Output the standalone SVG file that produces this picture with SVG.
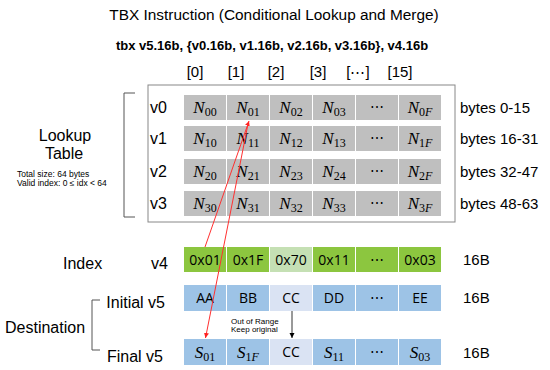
<svg xmlns="http://www.w3.org/2000/svg" width="550" height="370" viewBox="0 0 550 370">
<style>
.s{font-family:"Liberation Sans",Arial,sans-serif;fill:#000}
.t{font-size:16px}
.m{font-size:15px}
.sm{font-size:8.5px}
.g{fill:#bfbfbf}
.gr{fill:#8cc63f}
.lg{fill:#c5e0b4}
.b{fill:#9dc3e6}
.lb{fill:#dae3f3}
.n{font-family:"Liberation Serif","Times New Roman",serif;font-style:italic;font-size:17px;fill:#000;text-anchor:middle}
.n tspan.sub{font-size:12px;font-style:normal}
.n tspan.subi{font-size:12px}
.c{font-family:"Open Sans","Liberation Sans",sans-serif;font-size:14px;fill:#000;text-anchor:middle}
.br{fill:none;stroke:#555;stroke-width:1}
</style>
<defs>
<marker id="ar" markerWidth="6" markerHeight="6" refX="5" refY="3" orient="auto" markerUnits="userSpaceOnUse">
<path d="M0,0.5 L5,3 L0,5.5 Z" fill="#ff2020"/>
</marker>
<marker id="ak" markerWidth="6" markerHeight="6" refX="5" refY="3" orient="auto" markerUnits="userSpaceOnUse">
<path d="M0,0.5 L5,3 L0,5.5 Z" fill="#000"/>
</marker>
</defs>
<g id="title">
<text class="s" x="274" y="20" text-anchor="middle" font-size="15.4">TBX Instruction (Conditional Lookup and Merge)</text>
<text class="s" x="272" y="50" text-anchor="middle" font-size="13" font-weight="bold">tbx v5.16b, {v0.16b, v1.16b, v2.16b, v3.16b}, v4.16b</text>
</g>
<g id="col-headers" class="s m" text-anchor="middle">
<text x="195" y="77">[0]</text>
<text x="236" y="77">[1]</text>
<text x="276" y="77">[2]</text>
<text x="318" y="77">[3]</text>
<text x="358" y="77">[⋯]</text>
<text x="400" y="77">[15]</text>
</g>
<g id="lookup-label">
<text class="s t" x="65" y="141" text-anchor="middle">Lookup</text>
<text class="s t" x="64" y="159" text-anchor="middle">Table</text>
<text class="s sm" x="17" y="177">Total size: 64 bytes</text>
<text class="s sm" x="17" y="186">Valid index: 0 ≤ idx &lt; 64</text>
<path class="br" d="M135,93 H124 V217 H135"/>
</g>
<g id="lookup-table">
<rect x="148" y="85" width="307" height="137" fill="#fff" stroke="#888" stroke-width="1"/>
<g class="s t">
<text x="150" y="113">v0</text>
<text x="150" y="144">v1</text>
<text x="150" y="177">v2</text>
<text x="150" y="209">v3</text>
</g>
<g id="row-v0">
<rect class="g" x="184" y="95" width="42" height="25"/><rect class="g" x="227" y="95" width="42" height="25"/><rect class="g" x="270" y="95" width="42" height="25"/><rect class="g" x="313" y="95" width="42" height="25"/><rect class="g" x="356" y="95" width="42" height="25"/><rect class="g" x="399" y="95" width="42" height="25"/>
<text class="n" x="205" y="113">N<tspan class="sub" dy="3">00</tspan></text>
<text class="n" x="248" y="113">N<tspan class="sub" dy="3">01</tspan></text>
<text class="n" x="291" y="113">N<tspan class="sub" dy="3">02</tspan></text>
<text class="n" x="334" y="113">N<tspan class="sub" dy="3">03</tspan></text>
<text class="c" x="377" y="112">⋯</text>
<text class="n" x="420" y="113">N<tspan class="sub" dy="3">0</tspan><tspan class="subi">F</tspan></text>
</g>
<g id="row-v1">
<rect class="g" x="184" y="126" width="42" height="25"/><rect class="g" x="227" y="126" width="42" height="25"/><rect class="g" x="270" y="126" width="42" height="25"/><rect class="g" x="313" y="126" width="42" height="25"/><rect class="g" x="356" y="126" width="42" height="25"/><rect class="g" x="399" y="126" width="42" height="25"/>
<text class="n" x="205" y="144">N<tspan class="sub" dy="3">10</tspan></text>
<text class="n" x="248" y="144">N<tspan class="sub" dy="3">11</tspan></text>
<text class="n" x="291" y="144">N<tspan class="sub" dy="3">12</tspan></text>
<text class="n" x="334" y="144">N<tspan class="sub" dy="3">13</tspan></text>
<text class="c" x="377" y="143">⋯</text>
<text class="n" x="420" y="144">N<tspan class="sub" dy="3">1</tspan><tspan class="subi">F</tspan></text>
</g>
<g id="row-v2">
<rect class="g" x="184" y="159" width="42" height="25"/><rect class="g" x="227" y="159" width="42" height="25"/><rect class="g" x="270" y="159" width="42" height="25"/><rect class="g" x="313" y="159" width="42" height="25"/><rect class="g" x="356" y="159" width="42" height="25"/><rect class="g" x="399" y="159" width="42" height="25"/>
<text class="n" x="205" y="177">N<tspan class="sub" dy="3">20</tspan></text>
<text class="n" x="248" y="177">N<tspan class="sub" dy="3">21</tspan></text>
<text class="n" x="291" y="177">N<tspan class="sub" dy="3">23</tspan></text>
<text class="n" x="334" y="177">N<tspan class="sub" dy="3">24</tspan></text>
<text class="c" x="377" y="176">⋯</text>
<text class="n" x="420" y="177">N<tspan class="sub" dy="3">2</tspan><tspan class="subi">F</tspan></text>
</g>
<g id="row-v3">
<rect class="g" x="184" y="191" width="42" height="25"/><rect class="g" x="227" y="191" width="42" height="25"/><rect class="g" x="270" y="191" width="42" height="25"/><rect class="g" x="313" y="191" width="42" height="25"/><rect class="g" x="356" y="191" width="42" height="25"/><rect class="g" x="399" y="191" width="42" height="25"/>
<text class="n" x="205" y="209">N<tspan class="sub" dy="3">30</tspan></text>
<text class="n" x="248" y="209">N<tspan class="sub" dy="3">31</tspan></text>
<text class="n" x="291" y="209">N<tspan class="sub" dy="3">32</tspan></text>
<text class="n" x="334" y="209">N<tspan class="sub" dy="3">33</tspan></text>
<text class="c" x="377" y="208">⋯</text>
<text class="n" x="420" y="209">N<tspan class="sub" dy="3">3</tspan><tspan class="subi">F</tspan></text>
</g>
</g>
<g id="byte-labels" class="s m">
<text x="460" y="113">bytes 0-15</text>
<text x="460" y="144">bytes 16-31</text>
<text x="460" y="177">bytes 32-47</text>
<text x="460" y="209">bytes 48-63</text>
</g>
<g id="index-row">
<text class="s t" x="63" y="269">Index</text>
<text class="s t" x="168" y="269" text-anchor="end">v4</text>
<rect class="gr" x="184" y="247" width="42" height="25"/><rect class="gr" x="227" y="247" width="42" height="25"/><rect class="lg" x="270" y="247" width="42" height="25"/><rect class="gr" x="313" y="247" width="42" height="25"/><rect class="gr" x="356" y="247" width="42" height="25"/><rect class="gr" x="399" y="247" width="42" height="25"/>
<text class="c" x="205" y="265">0x01</text>
<text class="c" x="248" y="265">0x1F</text>
<text class="c" x="291" y="265">0x70</text>
<text class="c" x="334" y="265">0x11</text>
<text class="c" x="377" y="265">⋯</text>
<text class="c" x="420" y="265">0x03</text>
<text class="s m" x="463" y="265">16B</text>
</g>
<g id="destination-label">
<text class="s t" x="5" y="333">Destination</text>
<path class="br" d="M100,300 H92 V350 H100"/>
</g>
<g id="initial-row">
<text class="s t" x="165" y="308" text-anchor="end">Initial v5</text>
<rect class="b" x="184" y="285" width="42" height="26"/><rect class="b" x="227" y="285" width="42" height="26"/><rect class="lb" x="270" y="285" width="42" height="26"/><rect class="b" x="313" y="285" width="42" height="26"/><rect class="b" x="356" y="285" width="42" height="26"/><rect class="b" x="399" y="285" width="42" height="26"/>
<text class="c" x="205" y="303">AA</text>
<text class="c" x="248" y="303">BB</text>
<text class="c" x="291" y="303">CC</text>
<text class="c" x="334" y="303">DD</text>
<text class="c" x="377" y="303">⋯</text>
<text class="c" x="420" y="303">EE</text>
<text class="s m" x="463" y="303">16B</text>
</g>
<g id="final-row">
<text class="s t" x="163" y="362" text-anchor="end">Final v5</text>
<rect class="b" x="184" y="339" width="42" height="26"/><rect class="b" x="227" y="339" width="42" height="26"/><rect class="lb" x="270" y="339" width="42" height="26"/><rect class="b" x="313" y="339" width="42" height="26"/><rect class="b" x="356" y="339" width="42" height="26"/><rect class="b" x="399" y="339" width="42" height="26"/>
<text class="n" x="205" y="358">S<tspan class="sub" dy="3">01</tspan></text>
<text class="n" x="248" y="358">S<tspan class="sub" dy="3">1</tspan><tspan class="subi">F</tspan></text>
<text class="c" x="291" y="357">CC</text>
<text class="n" x="334" y="358">S<tspan class="sub" dy="3">11</tspan></text>
<text class="c" x="377" y="357">⋯</text>
<text class="n" x="420" y="358">S<tspan class="sub" dy="3">03</tspan></text>
<text class="s m" x="463" y="358">16B</text>
</g>
<g id="out-of-range-note">
<text class="s" font-size="8" x="231" y="324">Out of Range</text>
<text class="s" font-size="8" x="231" y="332">Keep original</text>
</g>
<g id="connectors" fill="none">
<line x1="205" y1="247" x2="249" y2="121" stroke="#ff3030" stroke-width="1" marker-end="url(#ar)"/>
<line x1="248" y1="124" x2="205.5" y2="338" stroke="#ff3030" stroke-width="1" marker-end="url(#ar)"/>
<line x1="292" y1="311" x2="292" y2="338" stroke="#000" stroke-width="0.8" marker-end="url(#ak)"/>
</g>
</svg>
